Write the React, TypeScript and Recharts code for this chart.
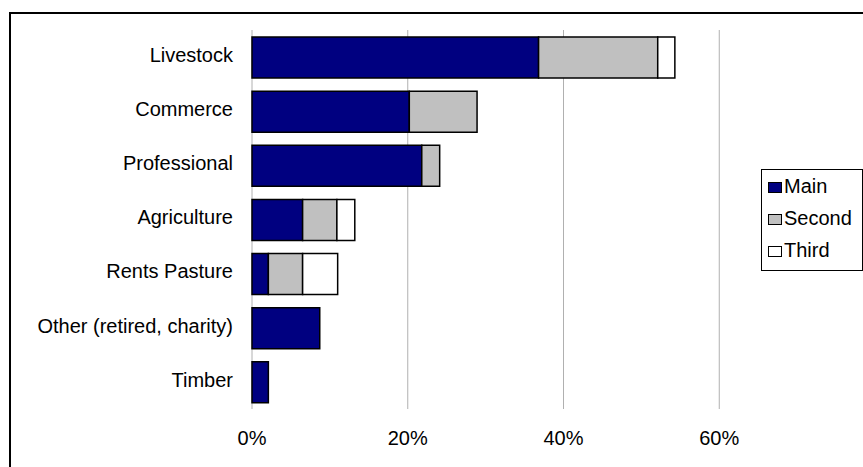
import React from 'react';
import { BarChart, Bar, XAxis, YAxis, CartesianGrid, Legend } from 'recharts';

const categories = [
  'Livestock',
  'Commerce',
  'Professional',
  'Agriculture',
  'Rents Pasture',
  'Other (retired, charity)',
  'Timber',
];
const mainValues = [36.8, 20.2, 21.8, 6.5, 2.1, 8.7, 2.1];
const secondValues = [15.3, 8.7, 2.3, 4.4, 4.4, 0, 0];
const thirdValues = [2.2, 0, 0, 2.3, 4.5, 0, 0];
const xTicks = [0, 20, 40, 60];
const seriesNames = ['Main', 'Second', 'Third'];

const data = categories.map((name, i) => ({
  name,
  main: mainValues[i],
  second: secondValues[i],
  third: thirdValues[i],
}));

const FONT = '"Liberation Sans", Arial, sans-serif';

const YTick = (props: any) => {
  const { x, y, payload } = props;
  return (
    <text x={x} y={y} dy={4.8} textAnchor="end" fontSize={20} fontFamily={FONT} fill="#000">
      {payload.value}
    </text>
  );
};

const XTick = (props: any) => {
  const { x, y, payload } = props;
  return (
    <text x={x} y={y} dy={36} textAnchor="middle" fontSize={20} fontFamily={FONT} fill="#000">
      {payload.value + '%'}
    </text>
  );
};

const LegendBox = (props: any) => {
  const { payload } = props;
  return (
    <div
      style={{
        border: '1px solid #000',
        background: '#fff',
        width: 102,
        height: 102,
        boxSizing: 'border-box',
        paddingLeft: 6,
        fontFamily: FONT,
        fontSize: 20,
        lineHeight: '32px',
        color: '#000',
        textAlign: 'left',
      }}
    >
      {(payload || []).map((p: any) => (
        <div key={p.value} style={{ whiteSpace: 'nowrap' }}>
          <span
            style={{
              display: 'inline-block',
              width: 14,
              height: 11,
              border: '1px solid #000',
              boxSizing: 'border-box',
              background: p.color,
              verticalAlign: 'baseline',
              marginRight: 2,
            }}
          />
          {p.value}
        </div>
      ))}
    </div>
  );
};

export default function App() {
  return (
    <div
      style={{
        position: 'absolute',
        left: 0,
        top: 0,
        width: 863,
        height: 467,
        overflow: 'hidden',
        background: '#fff',
      }}
    >
      <div
        style={{
          position: 'absolute',
          left: 9,
          top: 12,
          width: 904,
          height: 474,
          border: '2px solid #000',
          boxSizing: 'border-box',
          background: '#fff',
        }}
      >
        <BarChart
          width={900}
          height={470}
          data={data}
          layout="vertical"
          margin={{ top: 16, right: 36, bottom: 35, left: 0 }}
          barSize={41}
        >
          <CartesianGrid horizontal={false} vertical={true} stroke="#b0b0b0" strokeWidth={1} />
          <XAxis
            type="number"
            domain={[0, 80]}
            ticks={xTicks}
            axisLine={false}
            tickLine={false}
            tickSize={0}
            tickMargin={0}
            height={40}
            tick={<XTick />}
            interval={0}
          />
          <YAxis
            type="category"
            dataKey="name"
            width={241}
            axisLine={false}
            tickLine={false}
            tickSize={0}
            tickMargin={19}
            tick={<YTick />}
            interval={0}
          />
          <Legend
            layout="vertical"
            align="center"
            verticalAlign="middle"
            content={<LegendBox />}
            wrapperStyle={{ position: 'absolute', left: 750, top: 155, width: 'auto', height: 'auto' }}
          />
          <Bar dataKey="main" name={seriesNames[0]} stackId="a" fill="#000080" stroke="#000" strokeWidth={1.5} isAnimationActive={false} />
          <Bar dataKey="second" name={seriesNames[1]} stackId="a" fill="#c0c0c0" stroke="#000" strokeWidth={1.5} isAnimationActive={false} />
          <Bar dataKey="third" name={seriesNames[2]} stackId="a" fill="#ffffff" stroke="#000" strokeWidth={1.5} isAnimationActive={false} />
        </BarChart>
      </div>
    </div>
  );
}
